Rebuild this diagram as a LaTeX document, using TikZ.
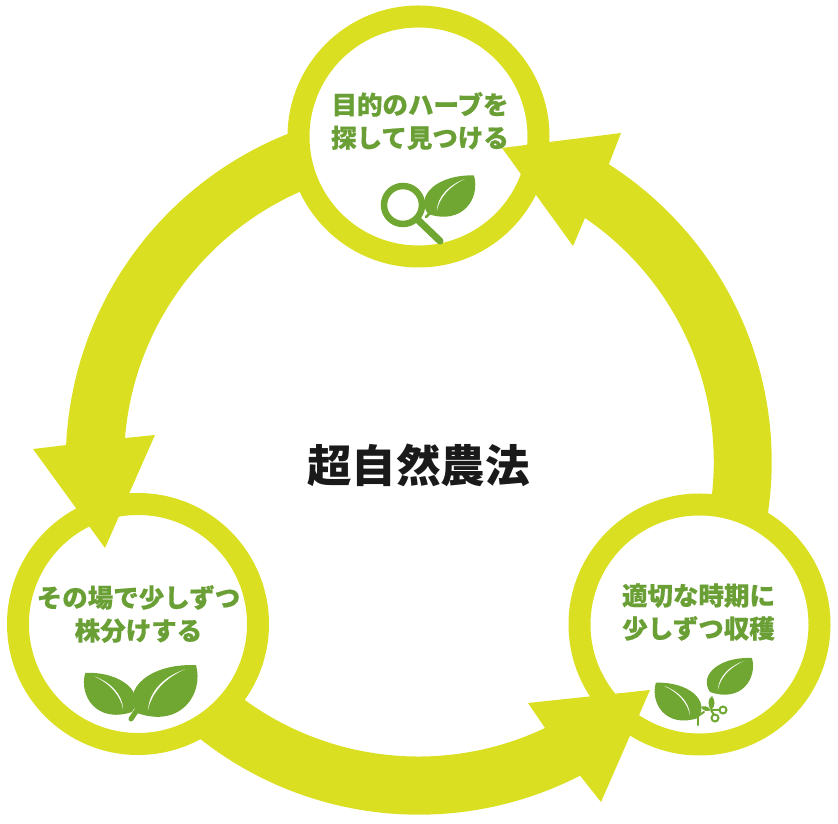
\documentclass[tikz,border=0pt]{standalone}
\usepackage{fontspec}
\usetikzlibrary{calc}
\newfontfamily\cjk{Noto Sans CJK JP}
\newfontfamily\cjkl[BoldFeatures={FakeBold=0.5}]{Noto Sans CJK JP}
\definecolor{lime}{HTML}{DAE021}
\definecolor{leafg}{HTML}{6FA732}
\definecolor{textg}{HTML}{6A9F35}
\definecolor{ink}{HTML}{1A1A1A}
\tikzset{
  ringnode/.style={circle,draw=lime,line width=22pt,minimum size=240pt,inner sep=0pt},
  flow/.style={fill=lime,draw=none},
  label/.style={font=\cjkl\bfseries\fontsize{25.5}{33}\selectfont,text=textg,align=center,inner sep=0pt},
  title/.style={font=\cjk\bfseries\fontsize{44.5}{50}\selectfont,text=ink,inner sep=0pt},
  stem/.style={draw=leafg,line cap=round},
  leaf/.pic={
    \fill[leafg] (0,0) .. controls (0.03,0.38) and (0.55,0.40) .. (1,0)
      .. controls (0.84,-0.36) and (0.32,-0.52) .. (0,0) -- cycle;
    \fill[white] (0.14,-0.06) .. controls (0.30,0.12) and (0.58,0.15) .. (0.85,0.05)
      .. controls (0.58,0.125) and (0.32,0.09) .. (0.14,-0.06) -- cycle;
  }
}
\begin{document}
\begin{tikzpicture}[x=1pt,y=1pt]
\useasboundingbox (0,0) rectangle (838,824);
\coordinate (C) at (418.7,362.3);
% rings
\node[ringnode] (top) at (418.5,687.5) {};
\node[ringnode] (left) at (138,200) {};
\node[ringnode] (right) at (699.5,199.5) {};
% arrows
\fill[flow] ($(C)+(110:353)$) arc[start angle=110,end angle=177.3,radius=353]
  -- (33,375) -- (105,276) -- (155,389) -- (125,386)
  arc[start angle=175.4,end angle=112,radius=295] -- cycle;
\fill[flow] ($(C)+(230:353)$) arc[start angle=230,end angle=297.2,radius=353]
  -- (601,22) -- (650,134) -- (528,121) -- (545,96)
  arc[start angle=295.4,end angle=232,radius=295] -- cycle;
\fill[flow] ($(C)+(-10:353)$) arc[start angle=-10,end angle=57.4,radius=353]
  -- (621,691) -- (502,676) -- (573,578) -- (585,606)
  arc[start angle=55.7,end angle=-8,radius=295] -- cycle;
% texts
\node[title] (centre) at (418.5,359) {超自然農法};
\node[label] (ttop) at (420,703) {目的のハーブを\\探して見つける};
\node[label] (tleft) at (138.5,210) {その場で少しずつ\\株分けする};
\node[label] (tright) at (698.5,212) {適切な時期に\\少しずつ収穫};
% magnifier + leaf
\draw[leafg,line width=6.5pt] (403,619) circle[radius=19];
\draw[leafg,line width=7pt,line cap=round] (418,604) -- (440,583);
\draw[stem,line width=2.5pt] (426,607) -- (431,612);
\pic[rotate=40,scale=60] at (428,610) {leaf};
% two leaves
\draw[stem,line width=5pt] (137,114) -- (131,105);
\pic[rotate=39,scale=76] at (137,111) {leaf};
\pic[rotate=140,yscale=-1,scale=61] at (132,112) {leaf};
% cutting
\draw[stem,line width=2.5pt] (698,108) -- (698,99);
\draw[stem,line width=2pt] (698,108) -- (704,112);
\pic[rotate=39,scale=54] at (710,132) {leaf};
\pic[rotate=140,yscale=-1,scale=55] at (698,106) {leaf};
\fill[leafg] (711,114) .. controls (707,120) and (708,125) .. (712,128) .. controls (715,124) and (716,118) .. (711,114) -- cycle;
\fill[leafg] (711,114) .. controls (707,119) and (703,118) .. (701,117) .. controls (703,113) and (707,112) .. (711,114) -- cycle;
\draw[leafg,line width=2pt] (723,114) circle[radius=3.5] (715,106) circle[radius=3.5];
\draw[leafg,line width=2pt] (711,114) -- (720,114) (711,114) -- (714,109);
\end{tikzpicture}
\end{document}
